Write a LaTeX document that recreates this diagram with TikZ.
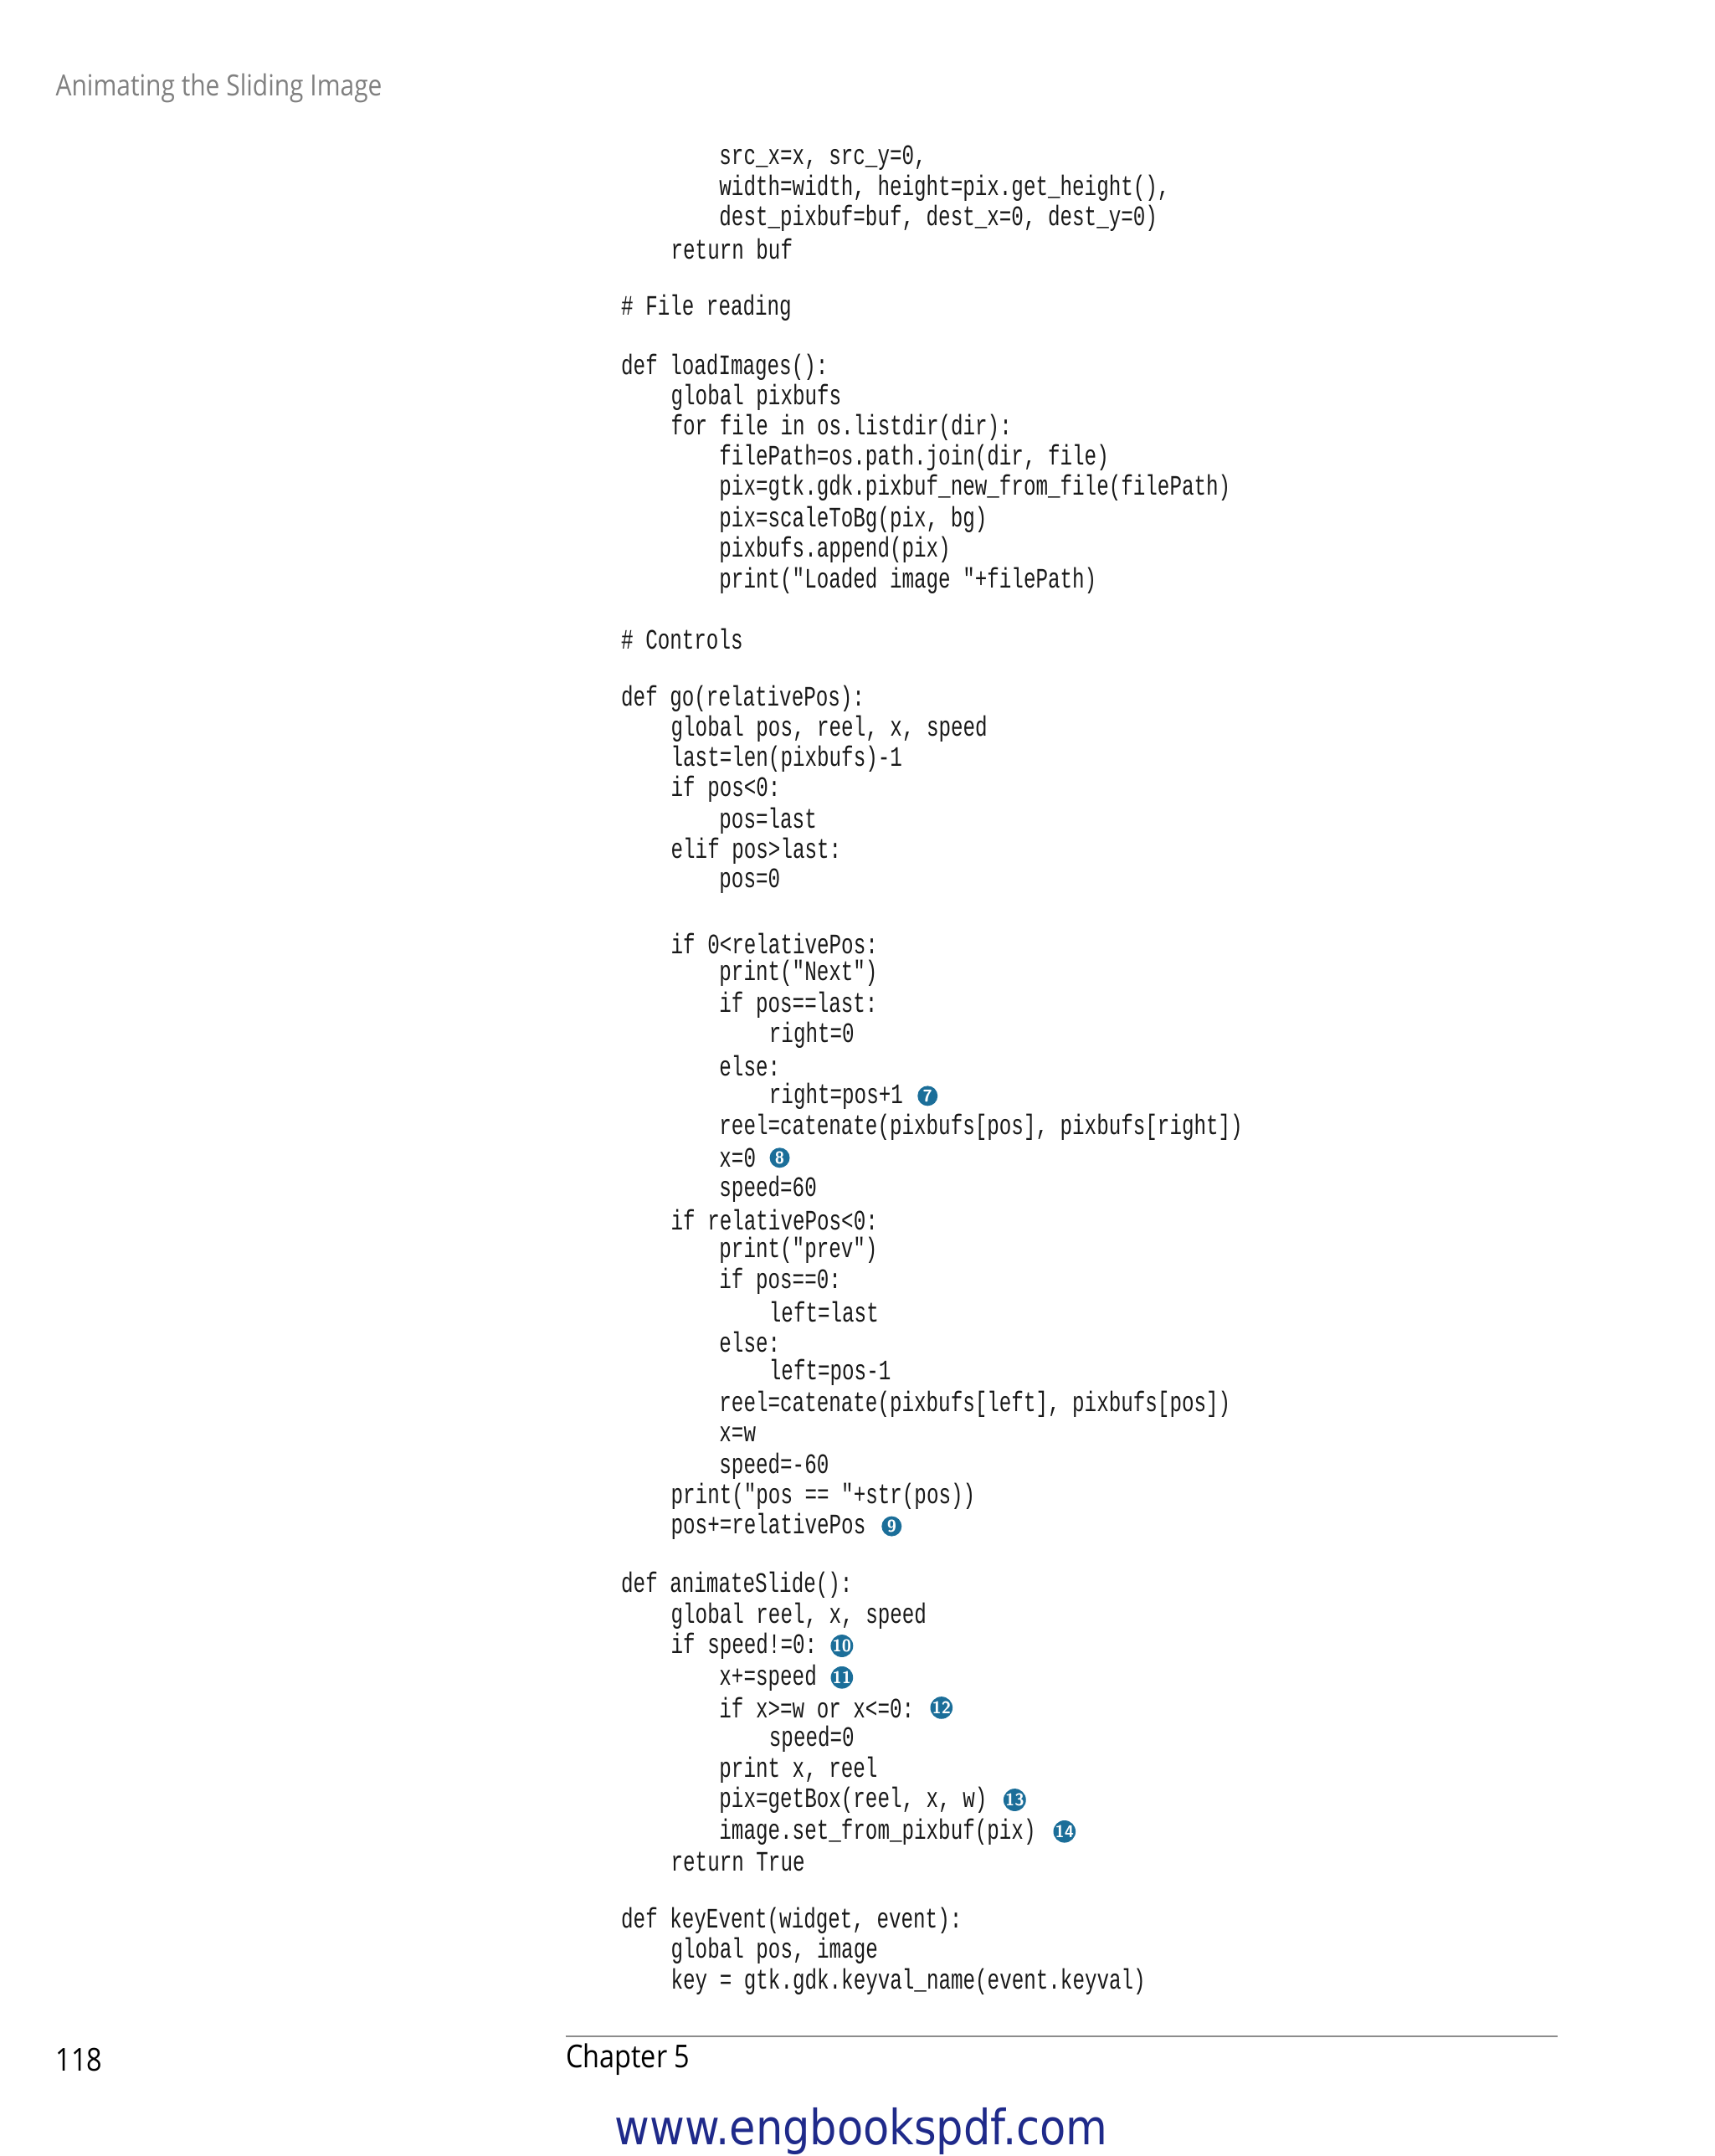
\documentclass[tikz,border=0pt]{standalone}
\usepackage{fontspec}
\setmainfont{Liberation Sans}
\newfontfamily\codefont[FakeStretch=0.72]{Liberation Mono}
\newfontfamily\hdrfont[FakeStretch=0.86]{Open Sans}
\newfontfamily\wmfont[FakeStretch=0.88]{DejaVu Sans}
\definecolor{bul}{HTML}{1B6E99}
\definecolor{wm}{HTML}{1F2A8A}
\newcommand{\cl}[3]{\node[code] (l#2) at (#1,#2) {#3};}
\newcommand{\bu}[3]{\node[bull] (b#3) at (#1,#2) {#3};}
\begin{document}
\begin{tikzpicture}[x=0.02cm,y=-0.019894cm,
 code/.style={anchor=west,inner sep=0,font=\codefont\fontsize{11.6pt}{13pt}\selectfont,text=black!90},
 bull/.style={circle,fill=bul,text=white,inner sep=0,minimum size=0.29cm,font=\sffamily\bfseries\fontsize{7pt}{8pt}\selectfont}]
\useasboundingbox (0,0) rectangle (1240,1568);
\node[anchor=west,inner sep=0,text=black!50,font=\hdrfont\fontsize{12pt}{14pt}\selectfont] (hdr) at (40,64) {Animating the Sliding Image};
\cl{520}{115}{src\_x=x, src\_y=0,}
\cl{520}{137}{width=width, height=pix.get\_height(),}
\cl{520}{159}{dest\_pixbuf=buf, dest\_x=0, dest\_y=0)}
\cl{485}{181}{return buf}
\cl{449}{224}{\# File reading}
\cl{449}{267}{def loadImages():}
\cl{485}{289}{global pixbufs}
\cl{485}{311}{for file in os.listdir(dir):}
\cl{520}{333}{filePath=os.path.join(dir, file)}
\cl{520}{355}{pix=gtk.gdk.pixbuf\_new\_from\_file(filePath)}
\cl{520}{378}{pix=scaleToBg(pix, bg)}
\cl{520}{400}{pixbufs.append(pix)}
\cl{520}{422}{print("Loaded image "+filePath)}
\cl{449}{465}{\# Controls}
\cl{449}{508}{def go(relativePos):}
\cl{485}{530}{global pos, reel, x, speed}
\cl{485}{552}{last=len(pixbufs)-1}
\cl{485}{574}{if pos<0:}
\cl{520}{597}{pos=last}
\cl{485}{619}{elif pos>last:}
\cl{520}{641}{pos=0}
\cl{485}{686}{if 0<relativePos:}
\cl{520}{708}{print("Next")}
\cl{520}{731}{if pos==last:}
\cl{556}{753}{right=0}
\cl{520}{775}{else:}
\cl{556}{797}{right=pos+1}
\cl{520}{820}{reel=catenate(pixbufs[pos], pixbufs[right])}
\cl{520}{842}{x=0}
\cl{520}{865}{speed=60}
\cl{485}{887}{if relativePos<0:}
\cl{520}{909}{print("prev")}
\cl{520}{932}{if pos==0:}
\cl{556}{954}{left=last}
\cl{520}{976}{else:}
\cl{556}{998}{left=pos-1}
\cl{520}{1021}{reel=catenate(pixbufs[left], pixbufs[pos])}
\cl{520}{1043}{x=w}
\cl{520}{1066}{speed=-60}
\cl{485}{1088}{print("pos == "+str(pos))}
\cl{485}{1110}{pos+=relativePos}
\cl{449}{1153}{def animateSlide():}
\cl{485}{1175}{global reel, x, speed}
\cl{485}{1197}{if speed!=0:}
\cl{520}{1220}{x+=speed}
\cl{520}{1242}{if x>=w or x<=0:}
\cl{556}{1265}{speed=0}
\cl{520}{1287}{print x, reel}
\cl{520}{1309}{pix=getBox(reel, x, w)}
\cl{520}{1332}{image.set\_from\_pixbuf(pix)}
\cl{485}{1354}{return True}
\cl{449}{1397}{def keyEvent(widget, event):}
\cl{485}{1419}{global pos, image}
\cl{485}{1441}{key = gtk.gdk.keyval\_name(event.keyval)}
\bu{671}{797}{7}
\bu{564}{842}{8}
\bu{645}{1110}{9}
\bu{609}{1197}{10}
\bu{609}{1220}{11}
\bu{681}{1242}{12}
\bu{734}{1309}{13}
\bu{770}{1332}{14}
\draw[black!45,line width=0.6pt] (409,1481) coordinate (r1) -- (1127,1481) coordinate (r2);
\node[anchor=west,inner sep=0,font=\hdrfont\fontsize{13pt}{15pt}\selectfont] (pg) at (40,1498) {118};
\node[anchor=west,inner sep=0,font=\hdrfont\fontsize{13pt}{15pt}\selectfont] (ch) at (409,1498) {Chapter 5};
\node[inner sep=0,text=wm,font=\wmfont\fontsize{20pt}{23pt}\selectfont] (wmk) at (623,1550) {www.engbookspdf.com};
\end{tikzpicture}
\end{document}
